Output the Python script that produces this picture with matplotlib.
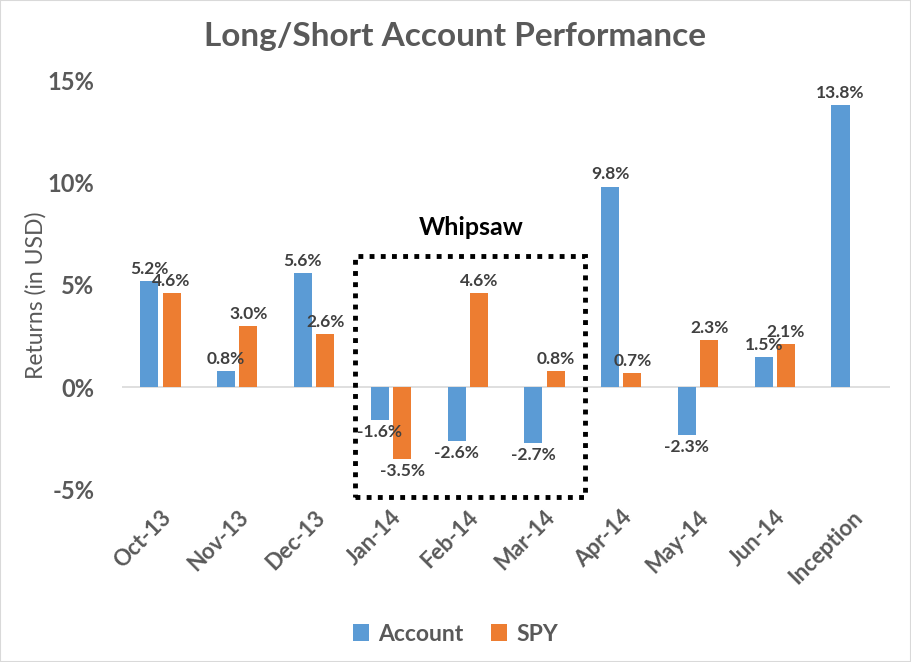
import numpy as np
import matplotlib.pyplot as plt
from matplotlib.patches import Rectangle

months = ["Oct-13", "Nov-13", "Dec-13", "Jan-14", "Feb-14", "Mar-14",
          "Apr-14", "May-14", "Jun-14", "Inception"]
account = [5.2, 0.8, 5.6, -1.6, -2.6, -2.7, 9.8, -2.3, 1.5, 13.8]
spy = [4.6, 3.0, 2.6, -3.5, 4.6, 0.8, 0.7, 2.3, 2.1, np.nan]

blue = "#5b9bd5"
orange = "#ed7d31"
grey = "#595959"
lbl = "#404040"

plt.rcParams['font.family'] = ['Lato', 'DejaVu Sans']

fig = plt.figure(figsize=(9.11, 6.62), dpi=100)
ax = fig.add_axes([0.134, 0.26, 0.843, 0.619])

x = np.arange(len(months))
w = 0.235
off = 0.145
b1 = ax.bar(x - off, account, w, color=blue, label="Account")
b2 = ax.bar(x + off, spy, w, color=orange, label="SPY")

for bars, vals in ((b1, account), (b2, spy)):
    for rect, v in zip(bars, vals):
        if np.isnan(v):
            continue
        cx = rect.get_x() + rect.get_width() / 2
        if v >= 0:
            ax.annotate(f"{v:.1f}%", (cx, v), xytext=(0, 3), textcoords="offset points",
                        ha="center", va="bottom", fontsize=12.5, fontweight="bold", color=lbl)
        else:
            ax.annotate(f"{v:.1f}%", (cx, v), xytext=(0, -3), textcoords="offset points",
                        ha="center", va="top", fontsize=12.5, fontweight="bold", color=lbl)

ax.set_xlim(-0.5, len(months) - 0.5)
ax.set_ylim(-5, 15)
ax.set_yticks([-5, 0, 5, 10, 15])
ax.set_yticklabels(["-5%", "0%", "5%", "10%", "15%"], fontsize=17, fontweight="bold", color=grey)
ax.set_xticks(x)
ax.set_xticklabels(months, rotation=45, ha="right", rotation_mode="anchor",
                   fontsize=16, fontweight="bold", color=grey)
ax.tick_params(length=0)
ax.tick_params(axis="x", pad=12)
ax.tick_params(axis="y", pad=20)
for s in ax.spines.values():
    s.set_visible(False)
ax.axhline(0, color="#d9d9d9", lw=1.2, zorder=0)

ax.set_ylabel("Returns (in USD)", fontsize=16.5, color=grey)
ax.yaxis.set_label_coords(-0.098, 0.475)
fig.text(0.5, 0.945, "Long/Short Account Performance", ha="center", va="center",
         fontsize=24, fontweight="bold", color=grey)

# whipsaw box
box = Rectangle((2.53, -5.35), 3.0, 11.75, fill=False, ls=(0, (1, 1.3)), lw=3.5,
                color="black", clip_on=False)
ax.add_patch(box)
ax.text(4.05, 7.8, "Whipsaw", ha="center", va="center", fontsize=18,
        fontweight="bold", color="black")

leg = fig.legend(loc="center", bbox_to_anchor=(0.5, 0.042), ncol=2, frameon=False,
                 handlelength=0.7, handleheight=0.8, handletextpad=0.4, columnspacing=1.2,
                 prop={"size": 16.5, "weight": "bold"})
for t in leg.get_texts():
    t.set_color(grey)

fig.patches.append(Rectangle((0, 0), 1, 1, transform=fig.transFigure, fill=False,
                             edgecolor="#d9d9d9", lw=1.5))

fig.savefig("out.png", dpi=100)
